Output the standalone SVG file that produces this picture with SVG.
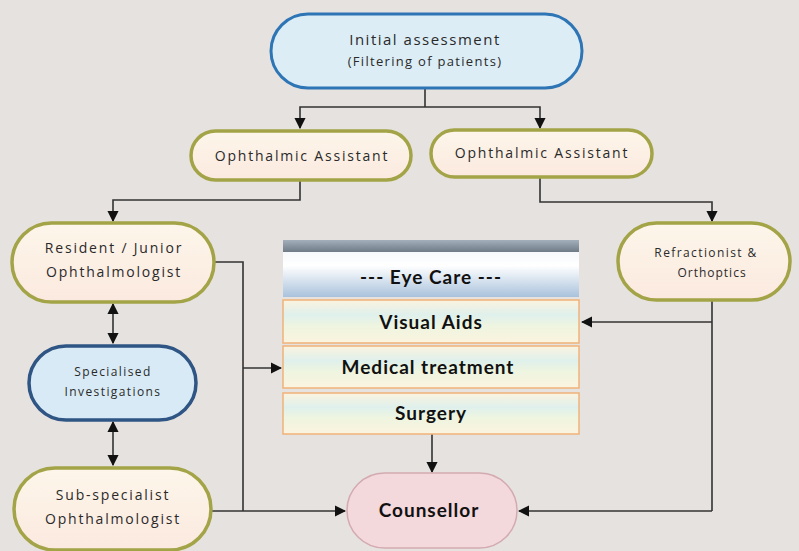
<svg xmlns="http://www.w3.org/2000/svg" width="799" height="551" viewBox="0 0 799 551">
<defs>
<marker id="ah" viewBox="0 0 10 10" refX="9" refY="5" markerWidth="7" markerHeight="7" orient="auto-start-reverse" markerUnits="strokeWidth">
<path d="M0,0 L10,5 L0,10 z" fill="#111"/>
</marker>
<linearGradient id="hdr" x1="0" y1="0" x2="0" y2="1">
<stop offset="0" stop-color="#eef3f8"/>
<stop offset="0.45" stop-color="#ffffff"/>
<stop offset="1" stop-color="#a9c2dc"/>
</linearGradient>
<linearGradient id="bar" x1="0" y1="0" x2="0" y2="1">
<stop offset="0" stop-color="#a3b0bb"/>
<stop offset="1" stop-color="#6f7c88"/>
</linearGradient>
<linearGradient id="grn" x1="0" y1="0" x2="0" y2="1">
<stop offset="0" stop-color="#fbf3df"/>
<stop offset="0.35" stop-color="#dff0ec"/>
<stop offset="0.6" stop-color="#eef5e0"/>
<stop offset="1" stop-color="#fbf3df"/>
</linearGradient>
<linearGradient id="pill" x1="0" y1="0" x2="0" y2="1">
<stop offset="0" stop-color="#fdf6ea"/>
<stop offset="1" stop-color="#fbe9df"/>
</linearGradient>
</defs>
<style>
.bg{fill:#e6e2df}
.blue{fill:#dcedf6;stroke:#2e75b6;stroke-width:3}
.dblue{fill:#d8eaf5;stroke:#2f5584;stroke-width:3.5}
.olive{fill:url(#pill);stroke:#a3a447;stroke-width:3.5}
.pink{fill:#f3d8dc;stroke:#d3aab0;stroke-width:1.5}
.box{fill:url(#grn);stroke:#f0b27a;stroke-width:1.5}
.t{font-family:"Open Sans","Liberation Sans",sans-serif;font-size:14px;letter-spacing:1.8px;fill:#2a2a2a;text-anchor:middle}
.t1{font-family:"Open Sans","Liberation Sans",sans-serif;font-size:15px;letter-spacing:1.5px;fill:#2a2a2a;text-anchor:middle}
.t2{font-family:"Open Sans","Liberation Sans",sans-serif;font-size:13px;letter-spacing:1.3px;fill:#2a2a2a;text-anchor:middle}
.ts{font-family:"Open Sans","Liberation Sans",sans-serif;font-size:12px;letter-spacing:1.4px;fill:#2a2a2a;text-anchor:middle}
.b{font-family:Lato,"Liberation Sans",sans-serif;font-weight:bold;font-size:19px;letter-spacing:1px;fill:#111;text-anchor:middle}
.c{fill:none;stroke:#333;stroke-width:1.6}
.a{marker-end:url(#ah)}
.d{marker-start:url(#ah);marker-end:url(#ah)}
</style>
<rect class="bg" x="0" y="0" width="799" height="551"/>

<g id="connectors">
<polyline class="c" points="425,88 425,107"/>
<polyline class="c a" points="425,107 300,107 300,128"/>
<polyline class="c a" points="425,107 540,107 540,128"/>
<polyline class="c a" points="300,180 300,200 113,200 113,221"/>
<polyline class="c a" points="540,177 540,202 712,202 712,221"/>
<polyline class="c" points="214,262 243,262 243,511"/>
<polyline class="c a" points="243,368 281,368"/>
<polyline class="c d" points="113,304 113,343"/>
<polyline class="c d" points="113,422 113,465"/>
<polyline class="c a" points="211,511 345,511"/>
<polyline class="c" points="712,300 712,511"/>
<polyline class="c a" points="712,322 582,322"/>
<polyline class="c a" points="712,511 519,511"/>
<polyline class="c a" points="432,434 432,472"/>
</g>

<g id="initial">
<rect class="blue" x="271" y="14" width="311" height="74" rx="37"/>
<text class="t1" x="425" y="45">Initial assessment</text>
<text class="t2" x="425" y="66">(Filtering of patients)</text>
</g>

<g id="oa-left">
<rect class="olive" x="191" y="131" width="220" height="49" rx="24.5"/>
<text class="t" x="302" y="161">Ophthalmic Assistant</text>
</g>

<g id="oa-right">
<rect class="olive" x="431" y="130" width="221" height="47" rx="23.5"/>
<text class="t" x="542" y="158">Ophthalmic Assistant</text>
</g>

<g id="resident">
<rect class="olive" x="12" y="223" width="202" height="79" rx="39.5"/>
<text class="t" x="114" y="253">Resident / Junior</text>
<text class="t" x="114" y="277">Ophthalmologist</text>
</g>

<g id="specialised">
<rect class="dblue" x="29" y="346" width="167" height="74" rx="37"/>
<text class="ts" x="113" y="376">Specialised</text>
<text class="ts" x="113" y="396">Investigations</text>
</g>

<g id="subspecialist">
<rect class="olive" x="14" y="468" width="197" height="82" rx="41"/>
<text class="t" x="113" y="500">Sub-specialist</text>
<text class="t" x="113" y="524">Ophthalmologist</text>
</g>

<g id="refractionist">
<rect class="olive" x="618" y="223" width="172" height="77" rx="38.5"/>
<text class="ts" x="706" y="257">Refractionist &amp;</text>
<text class="ts" x="712" y="277" style="letter-spacing:1px">Orthoptics</text>
</g>

<g id="eyecare">
<rect x="283" y="240" width="296" height="57" fill="url(#hdr)"/>
<rect x="283" y="240" width="296" height="12" fill="url(#bar)"/>
<text class="b" x="431" y="284">--- Eye Care ---</text>
</g>

<g id="visual-aids">
<rect class="box" x="283" y="300" width="296" height="43"/>
<text class="b" x="431" y="329">Visual Aids</text>
</g>

<g id="medical">
<rect class="box" x="283" y="346" width="296" height="42"/>
<text class="b" x="428" y="374">Medical treatment</text>
</g>

<g id="surgery">
<rect class="box" x="283" y="393" width="296" height="41"/>
<text class="b" x="431" y="420">Surgery</text>
</g>

<g id="counsellor">
<rect class="pink" x="347" y="473" width="170" height="75" rx="37.5"/>
<text class="b" x="429" y="517">Counsellor</text>
</g>
</svg>
